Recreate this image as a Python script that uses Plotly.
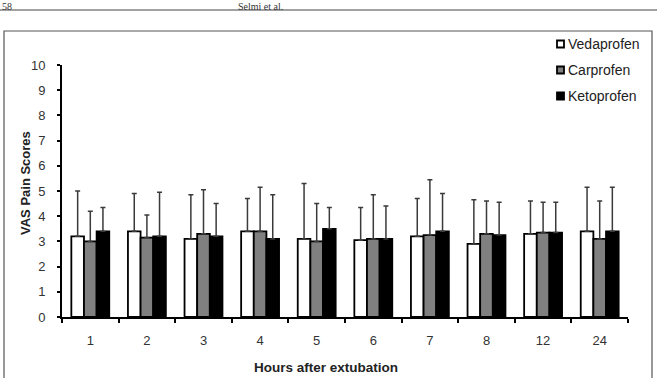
import plotly.graph_objects as go

hours = ["1", "2", "3", "4", "5", "6", "7", "8", "12", "24"]
vedaprofen_mean = [3.2, 3.4, 3.1, 3.4, 3.1, 3.05, 3.2, 2.9, 3.3, 3.4]
carprofen_mean = [3.0, 3.15, 3.3, 3.4, 3.0, 3.1, 3.25, 3.3, 3.35, 3.1]
ketoprofen_mean = [3.4, 3.2, 3.2, 3.1, 3.5, 3.1, 3.4, 3.25, 3.35, 3.4]
vedaprofen_sd = [1.8, 1.5, 1.75, 1.3, 2.2, 1.3, 1.5, 1.75, 1.3, 1.75]
carprofen_sd = [1.2, 0.9, 1.75, 1.75, 1.5, 1.75, 2.2, 1.3, 1.2, 1.5]
ketoprofen_sd = [0.95, 1.75, 1.3, 1.75, 0.85, 1.3, 1.5, 1.3, 1.2, 1.75]
y_ticks = [0, 1, 2, 3, 4, 5, 6, 7, 8, 9, 10]

series = [
    ("Vedaprofen", vedaprofen_mean, vedaprofen_sd, "#ffffff"),
    ("Carprofen", carprofen_mean, carprofen_sd, "#808080"),
    ("Ketoprofen", ketoprofen_mean, ketoprofen_sd, "#000000"),
]

FONT = "Liberation Sans, Arial, sans-serif"
fig = go.Figure()
for name, m, sd, col in series:
    fig.add_trace(go.Bar(
        x=hours, y=m, name=name, showlegend=False,
        marker=dict(color=col, line=dict(color="#000000", width=1.8)),
        error_y=dict(type="data", array=sd, arrayminus=[0] * len(sd), symmetric=False,
                     color="#3a3a3a", thickness=1.5, width=2.5),
    ))

L, R, T, B = 62, 29, 65, 61
W, H = 657, 378
pw, ph = W - L - R, H - T - B

def px(x):
    return (x - L) / pw

def py(y):
    return (H - B - y) / ph

shapes = [
    dict(type="rect", xref="paper", yref="paper", x0=px(4), x1=px(652), y0=py(400), y1=py(31),
         line=dict(color="#555555", width=1.2), fillcolor="rgba(0,0,0,0)", layer="below"),
    dict(type="line", xref="paper", yref="paper", x0=px(0), x1=px(657), y0=py(10), y1=py(10),
         line=dict(color="#444444", width=1.2)),
]
annotations = [
    dict(text="<b>Hours after extubation</b>", xref="paper", yref="paper", x=px(326), y=py(367),
         showarrow=False, font=dict(size=13.5, color="#222222"), xanchor="center", yanchor="middle"),
    dict(text="<b>VAS Pain Scores</b>", xref="paper", yref="paper", x=px(25), y=py(183),
         showarrow=False, textangle=-90, font=dict(size=13, color="#222222"),
         xanchor="center", yanchor="middle"),
    dict(text="Selmi et al.", xref="paper", yref="paper", x=px(260), y=py(-1),
         showarrow=False, font=dict(family="Liberation Serif, Times New Roman, serif", size=10,
                                    color="#333333"), xanchor="center", yanchor="top"),
    dict(text="58", xref="paper", yref="paper", x=px(0), y=py(-1),
         showarrow=False, font=dict(family="Liberation Serif, Times New Roman, serif", size=10,
                                    color="#333333"), xanchor="left", yanchor="top"),
]

# manual legend (compact symbol/text spacing as in reference)
leg_y = [44, 70, 96]
for (name, m, sd, col), yy in zip(series, leg_y):
    shapes.append(dict(type="rect", xref="paper", yref="paper",
                       x0=px(557), x1=px(564), y0=py(yy + 3.5), y1=py(yy - 3.5),
                       fillcolor=col, line=dict(color="#000000", width=1.8)))
    annotations.append(dict(text=name, xref="paper", yref="paper", x=px(566), y=py(yy),
                            showarrow=False, xanchor="left", yanchor="middle",
                            font=dict(size=14, color="#222222")))

fig.update_layout(
    width=W, height=H,
    margin=dict(l=L, r=R, t=T, b=B, pad=0),
    paper_bgcolor="white", plot_bgcolor="white",
    barmode="group", bargap=0.33, bargroupgap=0,
    font=dict(family=FONT, size=13, color="#333333"),
    showlegend=False,
    xaxis=dict(type="category", tickson="boundaries", ticks="outside", ticklen=4,
               tickwidth=1.5, tickcolor="#000", showline=True, linecolor="#000", linewidth=2,
               showgrid=False, tickfont=dict(size=13, color="#333333"), ticklabelstandoff=10),
    yaxis=dict(range=[0, 10], tickvals=y_ticks, ticks="outside", ticklen=3, tickwidth=1.5,
               tickcolor="#000", showline=True, linecolor="#000", linewidth=2,
               showgrid=False, zeroline=False, tickfont=dict(size=13, color="#333333"),
               ticklabelstandoff=9),
    shapes=shapes,
    annotations=annotations,
)

fig.write_html("out.html")
